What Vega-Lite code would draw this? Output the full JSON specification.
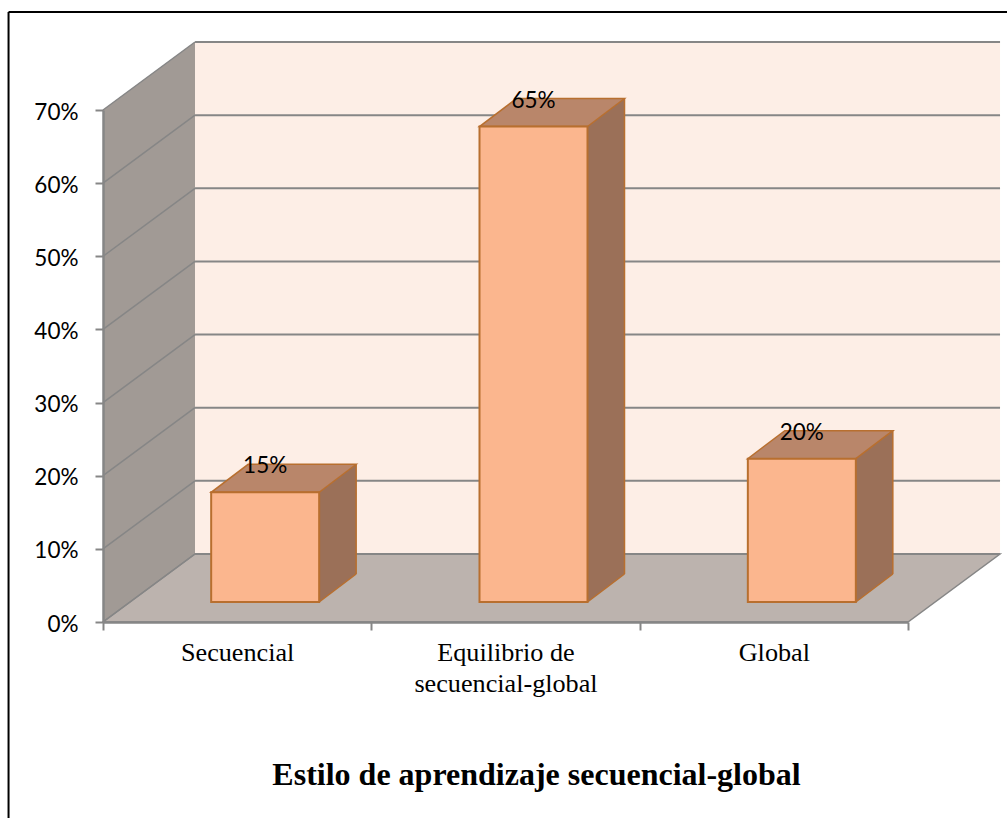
{"$schema":"https://vega.github.io/schema/vega-lite/v6.json","width":1007,"height":818,"autosize":"none","padding":0,"background":"white","config":{"view":{"stroke":null}},"title":{"text":"Estilo de aprendizaje secuencial-global","orient":"bottom","anchor":"middle","dx":33,"offset":-60,"font":"Liberation Serif","fontSize":32,"fontWeight":"bold","color":"#000000"},"datasets":{"estilos":[{"categoria":"Secuencial","valor":0.15},{"categoria":"Equilibrio de secuencial-global","valor":0.65},{"categoria":"Global","valor":0.196}],"marcas":[{"marca":0},{"marca":0.1},{"marca":0.2},{"marca":0.3},{"marca":0.4},{"marca":0.5},{"marca":0.6},{"marca":0.7}]},"data":{"name":"estilos"},"resolve":{"scale":{"x":"independent"},"axis":{"x":"independent"}},"layer":[
{"data":{"values":[{}]},"mark":{"type":"rect","fill":"#fdeee6"},"encoding":{"x":{"datum":0.343,"type":"quantitative","axis":null,"scale":{"domain":[0,3],"range":[103,908]}},"x2":{"datum":3.343},"y":{"datum":0.093,"type":"quantitative","scale":{"domain":[0,0.7],"range":[622,110]},"axis":{"values":[0,0.1,0.2,0.3,0.4,0.5,0.6,0.7],"format":".0%","title":null,"orient":"left","offset":-103,"zindex":1,"grid":false,"domainColor":"#868686","domainWidth":2.5,"tickColor":"#868686","tickWidth":2,"tickSize":8,"labelPadding":17,"labelOffset":2,"labelFont":"Lato","labelFontSize":22.5,"labelColor":"#000000"}},"y2":{"datum":0.793}}},
{"data":{"values":[{}]},"mark":{"type":"point","shape":"M0 0L92 -68L92 -580L0 -512Z","size":4,"filled":true,"fill":"#a19a95","stroke":null,"opacity":1},"encoding":{"x":{"datum":0,"type":"quantitative","axis":null,"scale":{"domain":[0,3],"range":[103,908]}},"y":{"datum":0,"type":"quantitative","scale":{"domain":[0,0.7],"range":[622,110]}}}},
{"data":{"values":[{}]},"mark":{"type":"point","shape":"M0 0L805 0L897 -68L92 -68Z","size":4,"filled":true,"fill":"#bcb3ae","stroke":"#868686","strokeWidth":1.5,"opacity":1},"encoding":{"x":{"datum":0,"type":"quantitative","axis":null,"scale":{"domain":[0,3],"range":[103,908]}},"y":{"datum":0,"type":"quantitative","scale":{"domain":[0,0.7],"range":[622,110]}}}},
{"data":{"name":"marcas"},"mark":{"type":"rule","color":"#868686","strokeWidth":2,"yOffset":-68},"encoding":{"x":{"datum":0.343,"type":"quantitative","axis":null,"scale":{"domain":[0,3],"range":[103,908]}},"x2":{"datum":3.343},"y":{"field":"marca","type":"quantitative","scale":{"domain":[0,0.7],"range":[622,110]}}}},
{"data":{"name":"marcas"},"mark":{"type":"point","shape":"M0 0L92 -68","size":4,"filled":false,"fill":null,"stroke":"#868686","strokeWidth":1.5,"opacity":1},"encoding":{"x":{"datum":0,"type":"quantitative","axis":null,"scale":{"domain":[0,3],"range":[103,908]}},"y":{"field":"marca","type":"quantitative","scale":{"domain":[0,0.7],"range":[622,110]}}}},
{"data":{"values":[{}]},"mark":{"type":"rule","color":"#000000","strokeWidth":2},"encoding":{"x":{"datum":-0.352,"type":"quantitative","axis":null,"scale":{"domain":[0,3],"range":[103,908]}},"x2":{"datum":3.4},"y":{"datum":0.834,"type":"quantitative","scale":{"domain":[0,0.7],"range":[622,110]}}}},
{"data":{"values":[{}]},"mark":{"type":"rule","color":"#000000","strokeWidth":2},"encoding":{"x":{"datum":-0.352,"type":"quantitative","axis":null,"scale":{"domain":[0,3],"range":[103,908]}},"y":{"datum":0.834,"type":"quantitative","scale":{"domain":[0,0.7],"range":[622,110]}},"y2":{"datum":-0.27}}},
{"mark":{"type":"bar","width":37,"fill":"#9b7058","xOffset":100.5,"yOffset":-20,"y2Offset":-48},"encoding":{"x":{"field":"categoria","type":"nominal","sort":null,"axis":null,"scale":{"type":"band","domain":["Secuencial","Equilibrio de secuencial-global","Global"],"range":[103,908],"padding":0}},"y":{"field":"valor","type":"quantitative","scale":{"domain":[0,0.7],"range":[622,110]}},"y2":{"datum":0}}},
{"mark":{"type":"point","shape":"M-0.3 0.3L37 -28L37 2L-0.3 2Z","size":4,"filled":true,"fill":"#9b7058","stroke":null,"opacity":1,"xOffset":82,"yOffset":-20},"encoding":{"x":{"field":"categoria","type":"nominal","sort":null,"axis":null,"scale":{"type":"band","domain":["Secuencial","Equilibrio de secuencial-global","Global"],"range":[103,908],"padding":0}},"y":{"field":"valor","type":"quantitative","scale":{"domain":[0,0.7],"range":[622,110]}}}},
{"mark":{"type":"point","shape":"M0 0L37 -28L37 -30L0 -30Z","size":4,"filled":true,"fill":"#9b7058","stroke":null,"opacity":1,"xOffset":82,"yOffset":-20},"encoding":{"x":{"field":"categoria","type":"nominal","sort":null,"axis":null,"scale":{"type":"band","domain":["Secuencial","Equilibrio de secuencial-global","Global"],"range":[103,908],"padding":0}},"y":{"datum":0,"type":"quantitative","scale":{"domain":[0,0.7],"range":[622,110]}}}},
{"mark":{"type":"point","shape":"M0 0L37 -28","size":4,"filled":false,"fill":null,"stroke":"#b86f2f","strokeWidth":1.5,"opacity":1,"xOffset":82,"yOffset":-20},"encoding":{"x":{"field":"categoria","type":"nominal","sort":null,"axis":null,"scale":{"type":"band","domain":["Secuencial","Equilibrio de secuencial-global","Global"],"range":[103,908],"padding":0}},"y":{"datum":0,"type":"quantitative","scale":{"domain":[0,0.7],"range":[622,110]}}}},
{"mark":{"type":"rule","color":"#b86f2f","strokeWidth":1.5,"xOffset":119,"yOffset":-48,"y2Offset":-48},"encoding":{"x":{"field":"categoria","type":"nominal","sort":null,"axis":null,"scale":{"type":"band","domain":["Secuencial","Equilibrio de secuencial-global","Global"],"range":[103,908],"padding":0}},"y":{"field":"valor","type":"quantitative","scale":{"domain":[0,0.7],"range":[622,110]}},"y2":{"datum":0}}},
{"mark":{"type":"point","shape":"M0 0L108 0L145 -28L37 -28Z","size":4,"filled":true,"fill":"#b9866a","stroke":"#b86f2f","strokeWidth":1.5,"opacity":1,"xOffset":-26,"yOffset":-20},"encoding":{"x":{"field":"categoria","type":"nominal","sort":null,"axis":null,"scale":{"type":"band","domain":["Secuencial","Equilibrio de secuencial-global","Global"],"range":[103,908],"padding":0}},"y":{"field":"valor","type":"quantitative","scale":{"domain":[0,0.7],"range":[622,110]}}}},
{"mark":{"type":"bar","width":108,"fill":"#fbb68e","stroke":"#b86f2f","strokeWidth":2,"xOffset":28,"yOffset":-20,"y2Offset":-20},"encoding":{"x":{"field":"categoria","type":"nominal","sort":null,"title":null,"scale":{"type":"band","domain":["Secuencial","Equilibrio de secuencial-global","Global"],"range":[103,908],"padding":0},"axis":{"orient":"bottom","offset":-196,"zindex":1,"tickBand":"extent","labelAngle":0,"domainColor":"#868686","domainWidth":2.5,"tickColor":"#868686","tickWidth":2,"tickSize":8,"labelPadding":9,"labelFont":"Liberation Serif","labelFontSize":26.2,"labelColor":"#000000","labelLineHeight":31,"labelLimit":0,"labelExpr":"datum.label == 'Equilibrio de secuencial-global' ? ['Equilibrio de','secuencial-global'] : datum.label"}},"y":{"field":"valor","type":"quantitative","scale":{"domain":[0,0.7],"range":[622,110]}},"y2":{"datum":0}}},
{"mark":{"type":"text","font":"Lato","fontSize":22.5,"color":"#000000","xOffset":28,"yOffset":-46},"encoding":{"x":{"field":"categoria","type":"nominal","sort":null,"axis":null,"scale":{"type":"band","domain":["Secuencial","Equilibrio de secuencial-global","Global"],"range":[103,908],"padding":0}},"y":{"field":"valor","type":"quantitative","scale":{"domain":[0,0.7],"range":[622,110]}},"text":{"field":"valor","type":"quantitative","format":".0%"}}}
]}
